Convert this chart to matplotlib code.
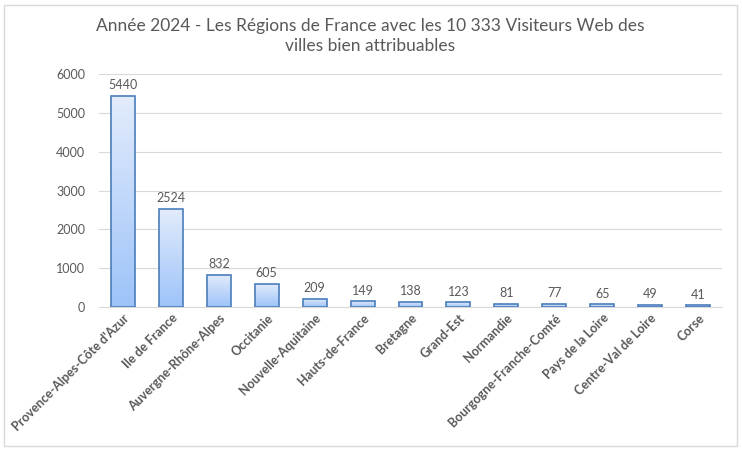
import numpy as np
import matplotlib.pyplot as plt
from matplotlib.patches import Rectangle
from matplotlib.colors import LinearSegmentedColormap

regions = ["Provence-Alpes-Côte d'Azur", "Ile de France", "Auvergne-Rhône-Alpes",
           "Occitanie", "Nouvelle-Aquitaine", "Hauts-de-France", "Bretagne",
           "Grand-Est", "Normandie", "Bourgogne-Franche-Comté", "Pays de la Loire",
           "Centre-Val de Loire", "Corse"]
visitors = [5440, 2524, 832, 605, 209, 149, 138, 123, 81, 77, 65, 49, 41]
yticks = [0, 1000, 2000, 3000, 4000, 5000, 6000]

plt.rcParams['font.family'] = ['Lato', 'DejaVu Sans']
grey = '#595959'

fig = plt.figure(figsize=(7.42, 4.51), dpi=100)
ax = fig.add_axes([99 / 742, 1 - 307 / 451, 623 / 742, 233 / 451])

# border of the chart area
fig.patches.append(Rectangle((4 / 742, 1 - 446 / 451), 733 / 742, 441 / 451,
                             transform=fig.transFigure, fill=False,
                             edgecolor='#d9d9d9', linewidth=1))

cmap = LinearSegmentedColormap.from_list('bar', ['#9dc3f9', '#e3ecfc'])
grad = np.linspace(0, 1, 256).reshape(-1, 1)
x = np.arange(len(regions))
w = 0.5
bars = ax.bar(x, visitors, width=w, color='none', edgecolor='#4a7ebb',
              linewidth=1.2, zorder=3)
for b in bars:
    x0, y0 = b.get_x(), b.get_y()
    im = ax.imshow(grad, cmap=cmap, aspect='auto', origin='lower',
                   extent=[x0, x0 + b.get_width(), y0, y0 + b.get_height()],
                   zorder=2)
    im.set_clip_path(b)

for xi, v in zip(x, visitors):
    ax.text(xi, v + 120, str(v), ha='center', va='bottom', fontsize=9, color=grey)

ax.set_xlim(-0.5, len(regions) - 0.5)
ax.set_ylim(0, 6000)
ax.set_yticks(yticks)
ax.yaxis.grid(True, color='#d9d9d9', linewidth=0.8, zorder=0)
ax.set_axisbelow(True)
for s in ['top', 'right', 'left']:
    ax.spines[s].set_visible(False)
ax.spines['bottom'].set_color('#d9d9d9')
ax.tick_params(axis='both', length=0, colors=grey, labelsize=9)
ax.tick_params(axis='y', pad=10)
ax.set_xticks(x)
ax.set_xticklabels(regions, rotation=45, ha='right', rotation_mode='anchor',
                   fontweight='bold', color=grey)

fig.text(370 / 742, 1 - 36 / 451,
         "Année 2024 - Les Régions de France avec les 10 333 Visiteurs Web des\nvilles bien attribuables",
         ha='center', va='center', fontsize=12.5, color=grey, linespacing=1.25)

fig.savefig('out.png', dpi=100)
